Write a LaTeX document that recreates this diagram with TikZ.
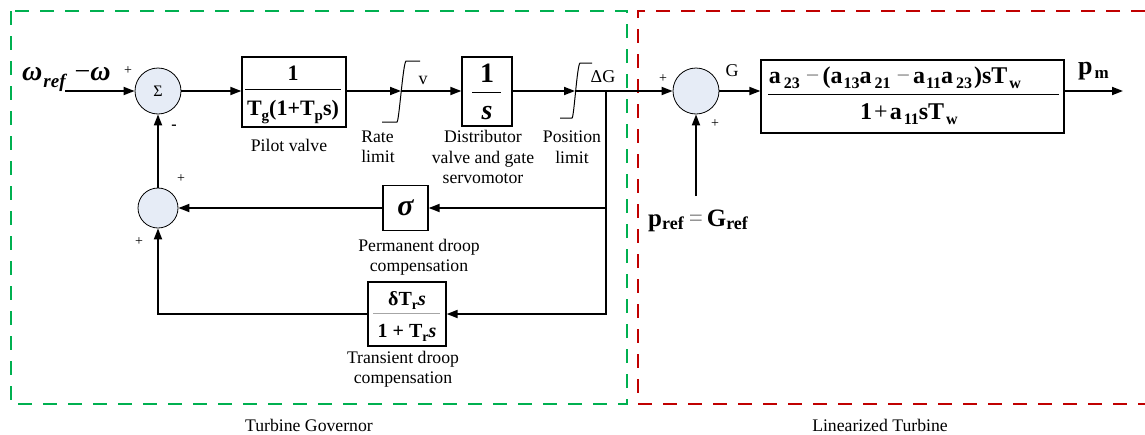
\documentclass[tikz,border=0pt]{standalone}
\usepackage{fontspec}
\setmainfont{Liberation Serif}
\usetikzlibrary{arrows.meta}
\definecolor{gbox}{HTML}{00B050}
\definecolor{rbox}{HTML}{C00000}
\definecolor{sumfill}{HTML}{E6ECF6}
\newcommand\fs[1]{\fontsize{#1}{#1}\selectfont}
\newcommand\dsub[3]{\raisebox{-#1}{\fs{#2}#3}}
\begin{document}
\begin{tikzpicture}[x=1pt,y=-1pt,
  line/.style={line width=1.8pt},
  arr/.style={line width=1.8pt,-{Triangle[length=11pt,width=8pt]}},
  blockbox/.style={draw,line width=1.3pt,inner sep=0pt},
  sumnode/.style={circle,draw,line width=0.8pt,fill=sumfill,inner sep=0pt},
  lbl/.style={font=\fontsize{17.7}{20.5}\selectfont,align=center,inner sep=0pt},
  sgn/.style={font=\fs{14},inner sep=0pt},
  txt/.style={inner sep=0pt},
  limiter/.style={line width=1pt},
  fbar/.style={line width=1pt},
  gline/.style={draw=gbox,line width=2.3pt,dash pattern=on 14pt off 11pt},
  rline/.style={draw=rbox,line width=2.3pt,dash pattern=on 14pt off 11pt}]
\useasboundingbox (0,0) rectangle (1145,434);

% group frames
\draw[gline] (11,11) rectangle (627,404);
\draw[rline] (1145,11) -- (638,11) -- (638,404) -- (1145,404);

% summing junctions
\node[sumnode,minimum size=46pt] (sum1) at (158,91) {\fs{16}Σ};
\node[sumnode,minimum size=40pt] (sum3) at (158,208) {};
\node[sumnode,minimum size=46pt] (sum2) at (696,91) {};

% blocks
\node[blockbox,minimum width=104pt,minimum height=70pt] (pv) at (294,92) {};
\node[blockbox,minimum width=50pt,minimum height=69pt] (sb) at (487,91.5) {};
\node[blockbox,minimum width=45pt,minimum height=45pt] (sig) at (405.5,208) {\fs{30}\bfseries\itshape σ};
\node[blockbox,minimum width=78pt,minimum height=64pt] (tr) at (407,314) {};
\node[blockbox,minimum width=303pt,minimum height=73pt] (tb) at (912.5,96.5) {};

% fraction contents: pilot valve
\node[txt,anchor=base,font=\fs{22}\bfseries] (pvn) at (293,80) {1};
\draw[fbar] (245,89) -- (341,89);
\node[txt,anchor=base,font=\fs{22}\bfseries] (pvd) at (293,115) {T\dsub{5pt}{15}{g}(1+T\dsub{5pt}{15}{p}s)};
% 1/s
\node[txt,anchor=base,font=\fs{28}\bfseries] (sbn) at (487,82) {1};
\draw[fbar] (472,92) -- (501,92);
\node[txt,anchor=base,font=\fs{28}\bfseries\itshape] (sbd) at (487,119) {s};
% transient
\node[txt,anchor=base,font=\fs{20}\bfseries] (trn) at (407,305) {δT\dsub{4pt}{14}{r}\textit{s}};
\draw[fbar,draw=gray!70] (373,313) -- (440,313);
\node[txt,anchor=base,font=\fs{20}\bfseries] (trd) at (407,337) {1 + T\dsub{4pt}{14}{r}\textit{s}};
% turbine
\node[txt,anchor=base,font=\fs{24}\bfseries] (tbn) at (895,83) {a\hspace{3pt}\dsub{5pt}{16}{23}\hspace{6pt}{\mdseries\color{gray}−}\hspace{3pt}(a\hspace{1pt}\dsub{5pt}{16}{13}a\hspace{3pt}\dsub{5pt}{16}{21}\hspace{6pt}{\mdseries\color{gray}−}\hspace{3pt}a\hspace{1pt}\dsub{5pt}{16}{11}a\hspace{3pt}\dsub{5pt}{16}{23}\hspace{2pt})sT\hspace{2pt}\dsub{5pt}{16}{w}};
\draw[fbar] (768,94) -- (1059,94);
\node[txt,anchor=base,font=\fs{24}\bfseries] (tbd) at (909,119) {1\hspace{2pt}{\mdseries +}\hspace{2pt}a\hspace{2pt}\dsub{5pt}{16}{11}sT\hspace{2pt}\dsub{5pt}{16}{w}};

% limiters
\draw[limiter] (382,122) -- (397,122) .. controls (399,122) and (403,63) .. (406,61) -- (420,61);
\draw[limiter] (560,118) -- (572,118) .. controls (574,118) and (577,65) .. (580,63) -- (592,63);

% coordinates
\coordinate (inp) at (65,91);
\coordinate (rl) at (401,91);
\coordinate (pl) at (575,91);
\coordinate (br) at (606,91);
\coordinate (out) at (1123,91);
\coordinate (prtop) at (696,196);

% connectors
\draw[arr] (inp) -- (sum1.west);
\draw[arr] (sum1.east) -- (sum1.east -| pv.west);
\draw[arr] (pv.east |- rl) -- (rl);
\draw[arr] (rl) -- (rl -| sb.west);
\draw[arr] (sb.east |- pl) -- (pl);
\draw[arr] (pl) -- (sum2.west);
\draw[arr] (sum2.east) -- (sum2.east -| tb.west);
\draw[arr] (tb.east |- out) -- (out);
\draw[arr] (prtop) -- (sum2.south);
\draw[arr] (br) |- (sig.east);
\draw[arr] (br) |- (tr.east);
\draw[arr] (sig.west) -- (sum3.east);
\draw[arr] (tr.west) -| (sum3.south);
\draw[arr] (sum3.north) -- (sum1.south);

% signal texts
\node[txt,anchor=base west] (win) at (22,80) {\bfseries\itshape\fs{28}ω\hspace{1pt}\dsub{7pt}{19}{ref}\hspace{9pt}\mdseries\upshape−\bfseries\itshape ω};
\node[txt,font=\fs{18}] (vlab) at (423,80) {v};
\node[txt,font=\fs{18}] (dglab) at (603,77) {ΔG};
\node[txt,font=\fs{18}] (glab) at (732,71) {G};
\node[txt,anchor=base west,font=\bfseries] (pm) at (1078,74) {\fs{26}p\hspace{2pt}\dsub{4pt}{17}{m}};
\node[txt,anchor=base west,font=\bfseries] (pref) at (648,226) {\fs{25}p\dsub{3pt}{18}{ref}\hspace{5pt}{\mdseries\color{gray}=}\hspace{4pt}G\dsub{3pt}{18}{ref}};

% signs
\node[sgn] (s1) at (128,71) {+};
\node[sgn,font=\fs{16}\bfseries] (s2) at (174,127) {-};
\node[sgn] (s3) at (181,179) {+};
\node[sgn] (s4) at (139,242) {+};
\node[sgn] (s5) at (663,79) {+};
\node[sgn] (s6) at (715,124) {+};

% block labels
\node[lbl] (pvl) at (289,145) {Pilot valve};
\node[lbl,align=left] (rll) at (378,147) {Rate\\limit};
\node[lbl] (dvl) at (483,157) {Distributor\\valve and gate\\servomotor};
\node[lbl] (pll) at (572,147) {Position\\limit};
\node[lbl] (pdl) at (419,257) {Permanent droop\\compensation};
\node[lbl] (tdl) at (403,369) {Transient droop\\compensation};
\node[lbl] (tgl) at (309,425) {Turbine Governor};
\node[lbl] (ltl) at (880,425) {Linearized Turbine};
\end{tikzpicture}
\end{document}
